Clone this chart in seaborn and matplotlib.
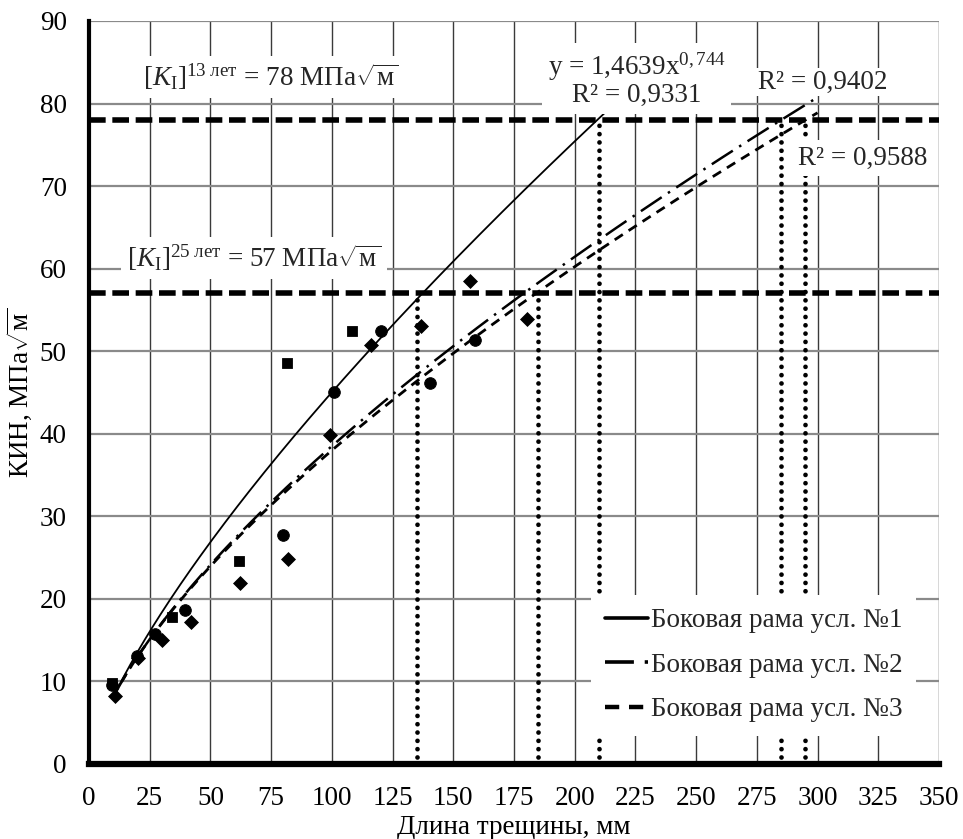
import numpy as np
import pandas as pd
import matplotlib
matplotlib.use("Agg")
import matplotlib.pyplot as plt
import seaborn as sns

# measured points (crack length, mm / SIF, MPa*sqrt(m)), grouped by marker
sq_x = [9.5, 34.0, 61.9, 81.5, 108.2]
sq_y = [9.8, 17.8, 24.6, 48.6, 52.5]
dm_x = [10.7, 20.0, 30.0, 41.8, 62.2, 82.1, 99.3, 116.2, 136.7, 156.7, 180.3]
dm_y = [8.2, 12.8, 15.0, 17.2, 21.9, 24.8, 39.8, 50.8, 53.1, 58.5, 53.9]
ci_x = [9.5, 19.6, 27.0, 39.4, 79.7, 100.9, 120.3, 140.2, 159.0]
ci_y = [9.6, 13.1, 15.7, 18.6, 27.7, 45.0, 52.4, 46.1, 51.3]

# power trend lines y = a*x^b
fit_names = ["Боковая рама усл. №1", "Боковая рама усл. №2", "Боковая рама усл. №3"]
fit_a = [1.4639, 1.728, 1.777]
fit_b = [0.744, 0.674, 0.665]
fit_x0 = [10, 10, 10]
fit_x1 = [213, 300, 300]

# allowable SIF levels and crossing points
k_levels = [78, 57]
cross_x = [135, 185, 210, 285, 295]
cross_y = [57, 57, 78, 78, 78]

FS = 19.5

sns.set_theme(style="white")
plt.rcParams["font.family"] = ["Liberation Serif", "DejaVu Serif"]
plt.rcParams["mathtext.fontset"] = "custom"
plt.rcParams["mathtext.rm"] = "Liberation Serif"
plt.rcParams["mathtext.it"] = "Liberation Serif:italic"
plt.rcParams["mathtext.bf"] = "Liberation Serif:bold"

fig = plt.figure(figsize=(9.63, 8.39), dpi=100)
ax = fig.add_axes([0.0925, 0.0894, 0.8825, 0.8856])

curves = []
for name, a, b, x0, x1 in zip(fit_names, fit_a, fit_b, fit_x0, fit_x1):
    xs = np.linspace(x0, x1, 200)
    curves.append(pd.DataFrame({"x": xs, "y": a * xs ** b, "series": name}))
curves = pd.concat(curves, ignore_index=True)

for yk in k_levels:
    ax.axhline(yk, color="black", lw=4, dashes=(3.0, 1.2), zorder=3)

dots = ax.vlines(cross_x, 0.8, cross_y, colors="black", lw=3.4,
                 linestyles=(0, (0.01, 1.75)), zorder=3)
dots.set_capstyle("round")

styles = {fit_names[0]: None, fit_names[1]: (10, 3, 1, 3), fit_names[2]: (3.5, 2.5)}
widths = {fit_names[0]: 1.3, fit_names[1]: 1.8, fit_names[2]: 2.0}
for name in fit_names:
    sub = curves[curves["series"] == name]
    kw = {} if styles[name] is None else {"linestyle": (0, styles[name])}
    sns.lineplot(data=sub, x="x", y="y", ax=ax, color="black", lw=widths[name],
                 label=name, zorder=4, sort=False, **kw)

sns.scatterplot(x=sq_x, y=sq_y, ax=ax, marker="s", s=55, color="black",
                edgecolor="black", zorder=5, legend=False)
sns.scatterplot(x=dm_x, y=dm_y, ax=ax, marker="D", s=50, color="black",
                edgecolor="black", zorder=5, legend=False)
sns.scatterplot(x=ci_x, y=ci_y, ax=ax, marker="o", s=70, color="black",
                edgecolor="black", zorder=5, legend=False)

ax.set_xlim(0, 350)
ax.set_ylim(0, 90)
ax.set_xticks(np.arange(0, 351, 25))
ax.set_yticks(np.arange(0, 91, 10))
ax.set_axisbelow(True)
ax.xaxis.grid(True, color="#3a3a3a", lw=1.0)
ax.yaxis.grid(True, color="#8a8a8a", lw=1.6)

for s in ["top", "right"]:
    ax.spines[s].set_visible(False)
ax.spines["left"].set_linewidth(3)
ax.spines["bottom"].set_linewidth(4.5)
ax.spines["left"].set_color("black")
ax.spines["bottom"].set_color("black")
ax.tick_params(axis="both", direction="out", length=7, width=3, colors="black",
               labelsize=FS, pad=9)

ax.set_xlabel("Длина трещины, мм", fontsize=FS, color="black")
ax.xaxis.set_label_coords(0.5, -0.069)
ax.set_ylabel(r"КИН, МПа$\sqrt{\mathrm{м}}$", fontsize=FS, labelpad=4, color="black")

box = dict(facecolor="white", edgecolor="none", pad=4)
ax.text(75, 83.2, r"$[K_\mathrm{I}]^{13\ \mathrm{лет}}$ = 78 МПа$\sqrt{\mathrm{м}}$",
        ha="center", va="center", fontsize=FS, bbox=box, zorder=6)
ax.text(68, 61.3, r"$[K_\mathrm{I}]^{25\ \mathrm{лет}}$ = 57 МПа$\sqrt{\mathrm{м}}$",
        ha="center", va="center", fontsize=FS, bbox=box, zorder=6)
ax.text(225.5, 82.9, "y = 1,4639x$^{0,744}$\nR² = 0,9331", ha="center", va="center",
        fontsize=FS, linespacing=1.0, bbox=box, zorder=6)
ax.text(302, 82.6, "R² = 0,9402", ha="center", va="center", fontsize=FS,
        bbox=dict(facecolor="white", edgecolor="none", pad=1), zorder=6)
ax.text(318.5, 73.4, "R² = 0,9588", ha="center", va="center", fontsize=FS,
        bbox=box, zorder=6)

leg = ax.legend(loc="lower right", bbox_to_anchor=(0.989, 0.02), fontsize=FS,
                frameon=True, facecolor="white", edgecolor="none", framealpha=1,
                handlelength=1.6, handletextpad=0.1, labelspacing=0.72,
                borderpad=0.5, fancybox=False)
leg.set_zorder(10)
hl = leg.get_lines()
hl[0].set_linewidth(2.6)
hl[0].set_linestyle("-")
hl[1].set_linewidth(2.6)
hl[1].set_dashes([8, 3, 1, 3])
hl[2].set_linewidth(3.2)
hl[2].set_dashes([3.2, 2.2])

fig.savefig("out.png", dpi=100)
